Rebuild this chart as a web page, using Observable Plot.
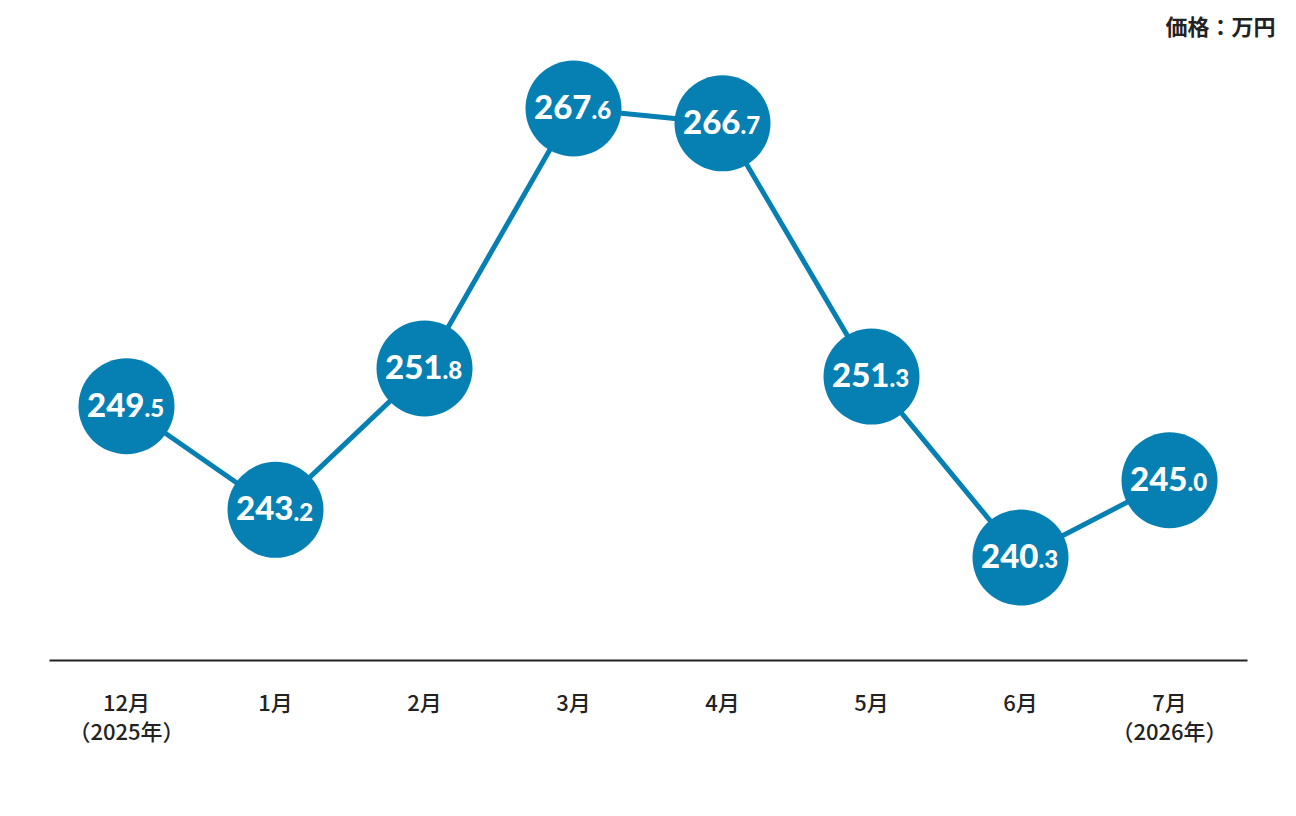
<!DOCTYPE html>
<html><head><meta charset="utf-8">
<script src="https://cdn.jsdelivr.net/npm/d3@7"></script>
<script src="https://cdn.jsdelivr.net/npm/@observablehq/plot@0.6"></script>
<style>body{margin:0;background:#fff}</style>
</head><body><div id="chart"></div>
<script>
const months = ["12月\n（2025年）","1月","2月","3月","4月","5月","6月","7月\n（2026年）"];
const prices = [249.5, 243.2, 251.8, 267.6, 266.7, 251.3, 240.3, 245.0];
const unitLabel = "価格：万円";

const data = months.map((m, i) => {
  const [ip, dp] = prices[i].toFixed(1).split(".");
  return {month: m, price: prices[i], intPart: ip, decPart: "." + dp};
});
const blue = "#0680b3";

const chart = Plot.plot({
  width: 1296, height: 816,
  marginTop: 0, marginLeft: 50, marginRight: 50, marginBottom: 156,
  style: {fontFamily: "'Noto Sans CJK JP', sans-serif", background: "#fff"},
  x: {type: "point", domain: months, range: [125, 1170], padding: 0, label: null},
  y: {domain: [230, 270], range: [726.5, 68.5], axis: null},
  marks: [
    Plot.frame({anchor: "bottom", stroke: "#222", strokeWidth: 2}),
    Plot.axisX({tickSize: 0, tickPadding: 29, fontSize: 22, fontWeight: 500, lineHeight: 1.35, fill: "#222", label: null, tickFormat: d => d}),
    Plot.line(data, {x: "month", y: "price", stroke: blue, strokeWidth: 5}),
    Plot.dot(data, {x: "month", y: "price", r: 48, fill: blue}),
    Plot.text(data, {x: "month", y: "price", text: "intPart", textAnchor: "end", dx: 18, dy: 0, fontSize: 33, fontWeight: 900, fontFamily: "Lato, sans-serif", fill: "#fff"}),
    Plot.text(data, {x: "month", y: "price", text: "decPart", textAnchor: "start", dx: 18, dy: 3, fontSize: 24, fontWeight: 900, fontFamily: "Lato, sans-serif", fill: "#fff"}),
    Plot.text([unitLabel], {frameAnchor: "top-right", text: d => d, dx: 29, dy: 19, fontSize: 22, fontWeight: "bold", fill: "#222", lineAnchor: "top"})
  ]
});
document.getElementById("chart").appendChild(chart);
</script></body></html>
